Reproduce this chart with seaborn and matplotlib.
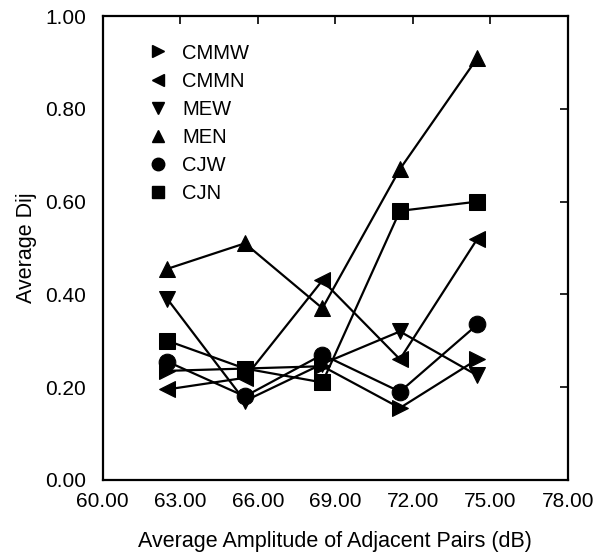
import pandas as pd
import matplotlib
matplotlib.use("Agg")
import matplotlib.pyplot as plt
import seaborn as sns
from matplotlib.lines import Line2D
from matplotlib.ticker import FormatStrFormatter

amplitude = [62.5, 65.5, 68.5, 71.5, 74.5]
series_names = ['CMMW', 'CMMN', 'MEW', 'MEN', 'CJW', 'CJN']
cmmw = [0.235, 0.24, 0.245, 0.155, 0.26]
cmmn = [0.195, 0.22, 0.43, 0.26, 0.52]
mew = [0.39, 0.17, 0.25, 0.32, 0.225]
men = [0.455, 0.51, 0.37, 0.67, 0.91]
cjw = [0.255, 0.18, 0.27, 0.19, 0.335]
cjn = [0.30, 0.24, 0.21, 0.58, 0.60]
x_ticks = [60, 63, 66, 69, 72, 75, 78]
y_ticks = [0.0, 0.2, 0.4, 0.6, 0.8, 1.0]

values = [cmmw, cmmn, mew, men, cjw, cjn]
rows = []
for name, vals in zip(series_names, values):
    for a, v in zip(amplitude, vals):
        rows.append({'amp': a, 'dij': v, 'series': name})
df = pd.DataFrame(rows)

marker_map = {'CMMW': '>', 'CMMN': '<', 'MEW': 'v', 'MEN': '^', 'CJW': 'o', 'CJN': 's'}

sns.set_style("white")
plt.rcParams['font.family'] = ['Liberation Sans', 'DejaVu Sans']
plt.rcParams['text.color'] = 'black'
plt.rcParams['axes.labelcolor'] = 'black'

fig = plt.figure(figsize=(5.94, 5.56), dpi=100)
ax = fig.add_axes([0.173, 0.137, 0.783, 0.834])

sns.lineplot(data=df, x='amp', y='dij', hue='series', style='series',
             palette=['black'] * 6, markers=marker_map, dashes=False,
             markersize=12, linewidth=1.6, markeredgecolor='black',
             hue_order=series_names, style_order=series_names,
             legend=False, ax=ax)

ax.set_xlim(60, 78)
ax.set_ylim(0, 1)
ax.set_xticks(x_ticks)
ax.set_yticks(y_ticks)
ax.xaxis.set_major_formatter(FormatStrFormatter('%.2f'))
ax.yaxis.set_major_formatter(FormatStrFormatter('%.2f'))
ax.tick_params(direction='in', length=6, width=1.2, top=True, right=True,
               labelsize=15, colors='black')
ax.tick_params(axis='x', pad=9)
ax.tick_params(axis='y', pad=12)
for s in ax.spines.values():
    s.set_linewidth(1.6)
    s.set_color('black')

ax.set_xlabel('Average Amplitude of Adjacent Pairs (dB)', fontsize=15.5, labelpad=14)
ax.set_ylabel('Average Dij', fontsize=15.5, labelpad=6)

handles = [Line2D([], [], linestyle='none', marker=marker_map[n], color='black',
                  markersize=9) for n in series_names]
ax.legend(handles, series_names, loc='upper left', frameon=False, fontsize=14.5,
          handletextpad=0.5, labelspacing=0.45, handlelength=1.4,
          bbox_to_anchor=(0.05, 0.98))

fig.savefig('out.png', dpi=100)
